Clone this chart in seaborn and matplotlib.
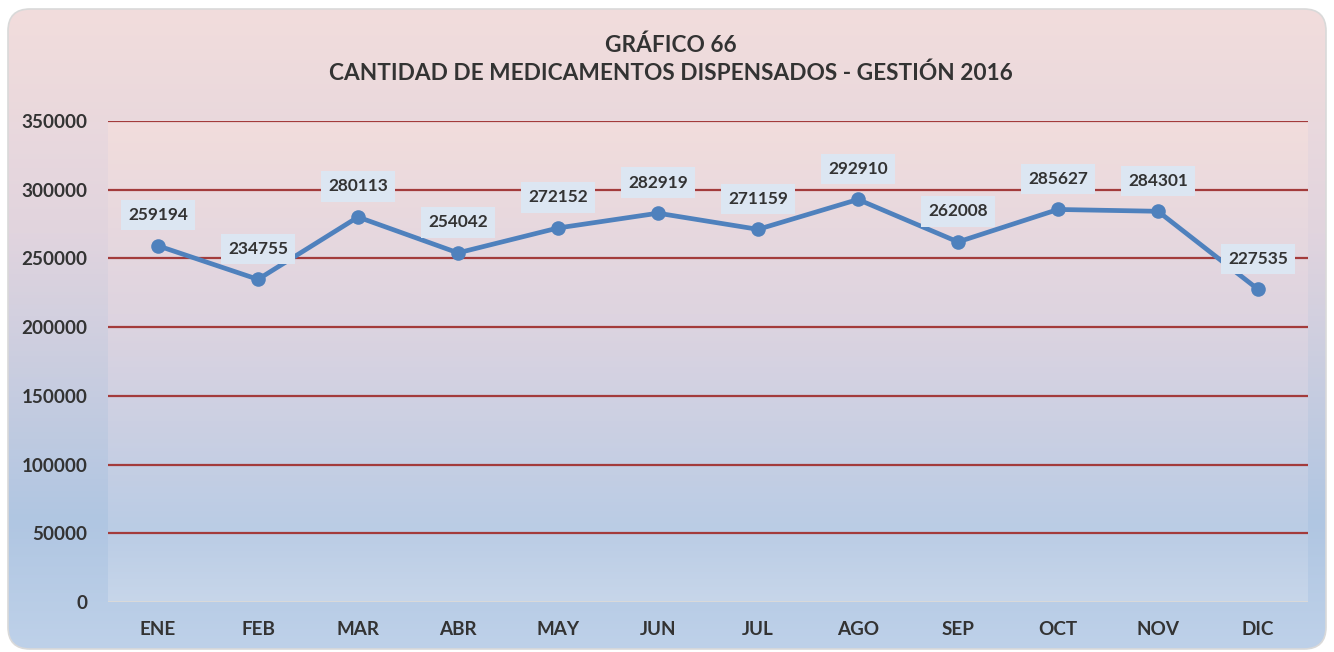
import numpy as np
import pandas as pd
import matplotlib
matplotlib.use("Agg")
import matplotlib.pyplot as plt
from matplotlib.patches import FancyBboxPatch
import seaborn as sns

meses = ["ENE", "FEB", "MAR", "ABR", "MAY", "JUN", "JUL", "AGO", "SEP", "OCT", "NOV", "DIC"]
cantidad = [259194, 234755, 280113, 254042, 272152, 282919, 271159, 292910, 262008, 285627, 284301, 227535]
yticks = [0, 50000, 100000, 150000, 200000, 250000, 300000, 350000]

titulo = "GRÁFICO 66\nCANTIDAD DE MEDICAMENTOS DISPENSADOS - GESTIÓN 2016"

sns.set_theme(style="white")
plt.rcParams["font.family"] = ["Lato", "DejaVu Sans"]

W, H = 1334, 652
fig = plt.figure(figsize=(W / 100, H / 100), dpi=100)
fig.patch.set_facecolor("white")


def vertical_gradient(stops, n=256):
    pos = np.array([s[0] for s in stops])
    cols = np.array([s[1] for s in stops], dtype=float) / 255.0
    t = np.linspace(0, 1, n)
    out = np.stack([np.interp(t, pos, cols[:, i]) for i in range(3)], axis=1)
    return out[:, None, :]


# Outer chart panel with rounded corners and pink-to-blue gradient
bg = fig.add_axes([0, 0, 1, 1], zorder=0)
bg.set_xlim(0, W)
bg.set_ylim(H, 0)
bg.axis("off")
panel = FancyBboxPatch((8, 9), W - 16, H - 12, boxstyle="round,pad=0,rounding_size=22",
                       facecolor="none", edgecolor="#D9D9D9", linewidth=1.2, zorder=2)
bg.add_patch(panel)
grad_outer = vertical_gradient([(0.0, (242, 221, 220)), (0.35, (225, 212, 222)),
                                (0.8, (176, 198, 226)), (1.0, (190, 209, 233))])
im = bg.imshow(grad_outer, extent=(8, W - 8, H - 3, 9), aspect="auto", zorder=1)
im.set_clip_path(panel)

# Plot area
left, right, top, bottom = 108, 1308, 121, 602
ax = fig.add_axes([left / W, 1 - bottom / H, (right - left) / W, (bottom - top) / H], zorder=1)
ax.patch.set_alpha(0)
grad_inner = vertical_gradient([(0.0, (242, 221, 220)), (0.4, (222, 212, 224)),
                                (0.85, (186, 204, 229)), (1.0, (199, 214, 234))])
ax.imshow(grad_inner, extent=(-0.5, 11.5, 0, 350000), aspect="auto", zorder=0)

df = pd.DataFrame({"mes": meses, "cantidad": cantidad})
df["x"] = np.arange(len(meses))
sns.lineplot(data=df, x="x", y="cantidad", ax=ax, color="#4F81BD", linewidth=3.4,
             marker="o", markersize=10.5, markeredgewidth=0, zorder=4)

for y in yticks[1:]:
    ax.axhline(y, color="#A33B3B", linewidth=1.6, zorder=1)
ax.axhline(0, color="#D9D9D9", linewidth=1.5, zorder=1)

for xi, v in zip(df["x"], cantidad):
    ax.annotate(f"{v}", (xi, v), xytext=(0, 22), textcoords="offset points",
                ha="center", va="center", fontsize=12.4, fontweight="bold", color="#333333",
                bbox=dict(boxstyle="square,pad=0.42", facecolor="#DCE6F2", edgecolor="none"),
                zorder=6)

ax.set_xlim(-0.5, 11.5)
ax.set_ylim(0, 350000)
ax.set_xticks(df["x"])
ax.set_xticklabels(meses)
ax.set_yticks(yticks)
ax.set_yticklabels([str(t) for t in yticks])
ax.tick_params(axis="both", length=0, labelsize=13.6, colors="#333333")
ax.tick_params(axis="x", pad=14)
ax.tick_params(axis="y", pad=15)
for lab in ax.get_xticklabels() + ax.get_yticklabels():
    lab.set_fontweight("bold")
ax.set_xlabel("")
ax.set_ylabel("")
for s in ax.spines.values():
    s.set_visible(False)
ax.grid(False)

fig.text(671 / W, 1 - 59.5 / H, titulo, ha="center", va="center", fontsize=16.3,
         fontweight="bold", color="#333333", linespacing=1.4, zorder=5)

fig.savefig("out.png", dpi=100, facecolor="white")
